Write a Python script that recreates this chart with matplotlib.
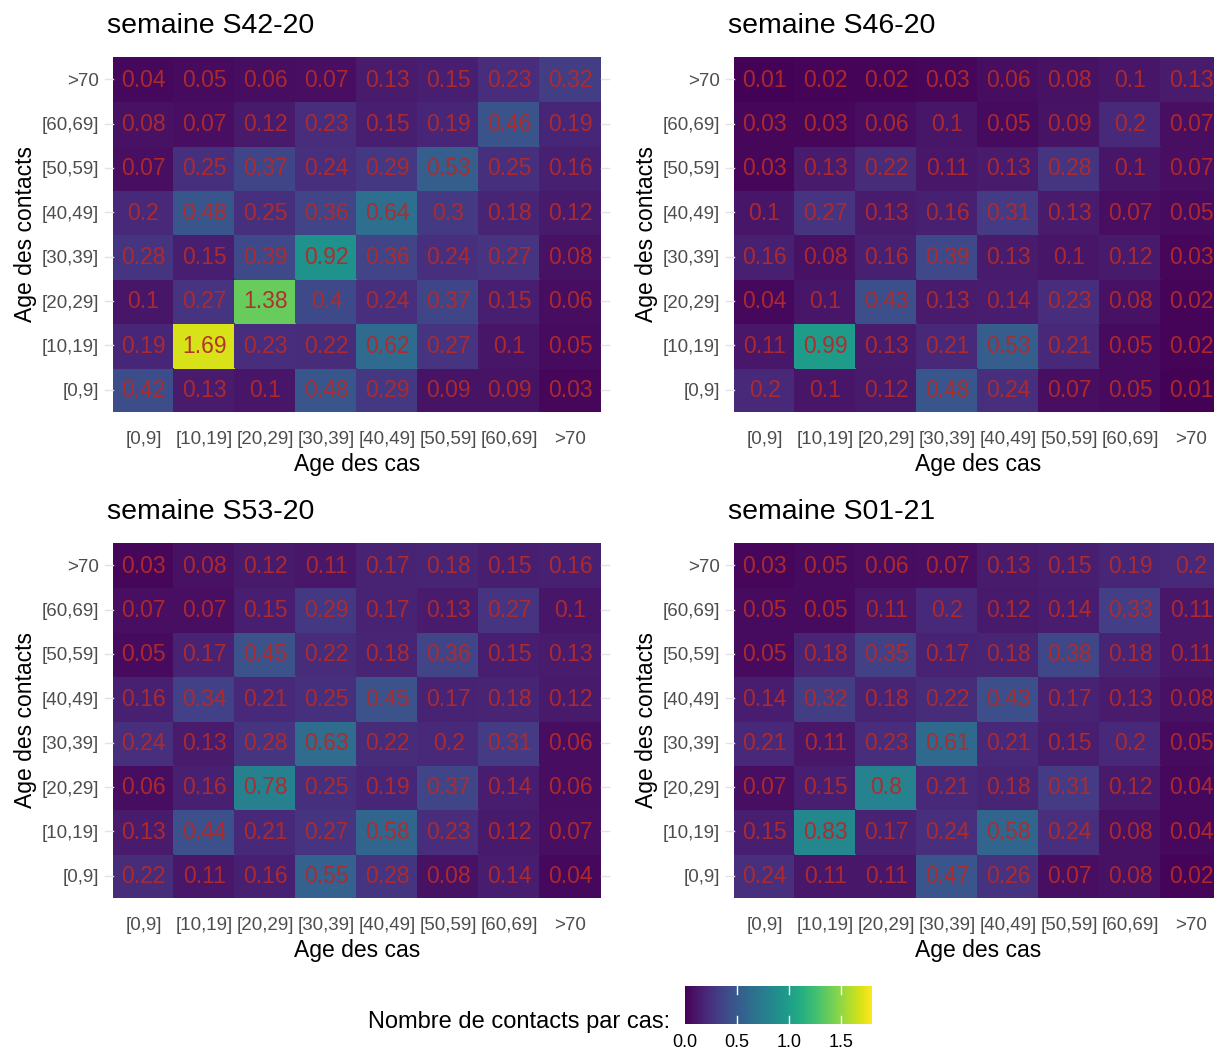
import matplotlib
matplotlib.use("Agg")
import matplotlib.pyplot as plt
import numpy as np
from matplotlib.lines import Line2D

plt.rcParams['font.family'] = ['Liberation Sans', 'DejaVu Sans']

age_groups = ["[0,9]", "[10,19]", "[20,29]", "[30,39]", "[40,49]", "[50,59]", "[60,69]", ">70"]

# rows listed from top (>70) to bottom ([0,9]); columns = age des cas
s42_20 = [
    [0.04, 0.05, 0.06, 0.07, 0.13, 0.15, 0.23, 0.32],
    [0.08, 0.07, 0.12, 0.23, 0.15, 0.19, 0.46, 0.19],
    [0.07, 0.25, 0.37, 0.24, 0.29, 0.53, 0.25, 0.16],
    [0.2, 0.48, 0.25, 0.36, 0.64, 0.3, 0.18, 0.12],
    [0.28, 0.15, 0.39, 0.92, 0.36, 0.24, 0.27, 0.08],
    [0.1, 0.27, 1.38, 0.4, 0.24, 0.37, 0.15, 0.06],
    [0.19, 1.69, 0.23, 0.22, 0.62, 0.27, 0.1, 0.05],
    [0.42, 0.13, 0.1, 0.48, 0.29, 0.09, 0.09, 0.03],
]
s46_20 = [
    [0.01, 0.02, 0.02, 0.03, 0.06, 0.08, 0.1, 0.13],
    [0.03, 0.03, 0.06, 0.1, 0.05, 0.09, 0.2, 0.07],
    [0.03, 0.13, 0.22, 0.11, 0.13, 0.28, 0.1, 0.07],
    [0.1, 0.27, 0.13, 0.16, 0.31, 0.13, 0.07, 0.05],
    [0.16, 0.08, 0.16, 0.39, 0.13, 0.1, 0.12, 0.03],
    [0.04, 0.1, 0.43, 0.13, 0.14, 0.23, 0.08, 0.02],
    [0.11, 0.99, 0.13, 0.21, 0.53, 0.21, 0.05, 0.02],
    [0.2, 0.1, 0.12, 0.48, 0.24, 0.07, 0.05, 0.01],
]
s53_20 = [
    [0.03, 0.08, 0.12, 0.11, 0.17, 0.18, 0.15, 0.16],
    [0.07, 0.07, 0.15, 0.29, 0.17, 0.13, 0.27, 0.1],
    [0.05, 0.17, 0.45, 0.22, 0.18, 0.36, 0.15, 0.13],
    [0.16, 0.34, 0.21, 0.25, 0.45, 0.17, 0.18, 0.12],
    [0.24, 0.13, 0.28, 0.63, 0.22, 0.2, 0.31, 0.06],
    [0.06, 0.16, 0.78, 0.25, 0.19, 0.37, 0.14, 0.06],
    [0.13, 0.44, 0.21, 0.27, 0.58, 0.23, 0.12, 0.07],
    [0.22, 0.11, 0.16, 0.55, 0.28, 0.08, 0.14, 0.04],
]
s01_21 = [
    [0.03, 0.05, 0.06, 0.07, 0.13, 0.15, 0.19, 0.2],
    [0.05, 0.05, 0.11, 0.2, 0.12, 0.14, 0.33, 0.11],
    [0.05, 0.18, 0.35, 0.17, 0.18, 0.38, 0.18, 0.11],
    [0.14, 0.32, 0.18, 0.22, 0.43, 0.17, 0.13, 0.08],
    [0.21, 0.11, 0.23, 0.61, 0.21, 0.15, 0.2, 0.05],
    [0.07, 0.15, 0.8, 0.21, 0.18, 0.31, 0.12, 0.04],
    [0.15, 0.83, 0.17, 0.24, 0.58, 0.24, 0.08, 0.04],
    [0.24, 0.11, 0.11, 0.47, 0.26, 0.07, 0.08, 0.02],
]
titles = ["semaine S42-20", "semaine S46-20", "semaine S53-20", "semaine S01-21"]
matrices = [s42_20, s46_20, s53_20, s01_21]

W, H = 1214, 1052
fig = plt.figure(figsize=(W / 100, H / 100), dpi=100)

# panel positions in pixels: (left, top, width, height)
panels = [(113, 57, 488, 355), (734, 57, 488, 355), (113, 543, 488, 355), (734, 543, 488, 355)]
vmin, vmax = 0.0, 1.8
cmap = plt.get_cmap("viridis")
tick_color = "#4d4d4d"
text_color = "#b22a2a"

mesh = None
for (l, t, w, h), mat, title in zip(panels, matrices, titles):
    ax = fig.add_axes([l / W, 1 - (t + h) / H, w / W, h / H])
    arr = np.array(mat)[::-1]  # row 0 = [0,9]
    mesh = ax.pcolormesh(np.arange(9) - 0.5, np.arange(9) - 0.5, arr, cmap=cmap,
                         vmin=vmin, vmax=vmax, edgecolor="face", linewidth=0.2)
    for i in range(8):
        for j in range(8):
            ax.text(j, i - 0.02, f"{arr[i, j]:g}", ha="center", va="center", fontsize=16.5,
                    color=text_color, alpha=0.95)
        # short gridlines outside the tiles
        for x0, x1 in [(-0.017, 0.0), (1.0, 1.017)]:
            ax.add_line(Line2D([x0, x1], [(i + 0.5) / 8] * 2, transform=ax.transAxes,
                               color="#e3e3e3", lw=1.0, clip_on=False))
    ax.set_xlim(-0.5, 7.5)
    ax.set_ylim(-0.5, 7.5)
    ax.set_xticks(range(8))
    ax.set_xticklabels(age_groups)
    ax.set_yticks(range(8))
    ax.set_yticklabels(age_groups)
    ax.tick_params(length=0, labelsize=13.5, colors=tick_color)
    ax.tick_params(axis="y", pad=10)
    ax.tick_params(axis="x", pad=14)
    for s in ax.spines.values():
        s.set_visible(False)
    ax.set_xlabel("Age des cas", fontsize=16.5, color="black", labelpad=3)
    ax.set_ylabel("Age des contacts", fontsize=16.5, color="black", labelpad=3)
    fig.text((l - 6) / W, 1 - 26 / H - (t - 57) / H, title, fontsize=20.5,
             ha="left", va="center", color="black")

# colorbar
cax = fig.add_axes([685 / W, 1 - 1024 / H, 187 / W, 38 / H])
cb = fig.colorbar(mesh, cax=cax, orientation="horizontal", ticks=[0.0, 0.5, 1.0, 1.5])
cb.outline.set_visible(False)
cb.ax.set_xticklabels(["0.0", "0.5", "1.0", "1.5"])
cb.ax.tick_params(length=0, labelsize=13, colors="black", pad=7)
for v in [0.5, 1.0, 1.5]:
    cax.plot([v, v], [0, 0.2], color="white", lw=1, transform=cax.get_xaxis_transform())
    cax.plot([v, v], [0.8, 1.0], color="white", lw=1, transform=cax.get_xaxis_transform())
fig.text(670 / W, 1 - 1022 / H, "Nombre de contacts par cas:", fontsize=17,
         ha="right", va="center", color="black")

fig.savefig("out.png", dpi=100, facecolor="white")
